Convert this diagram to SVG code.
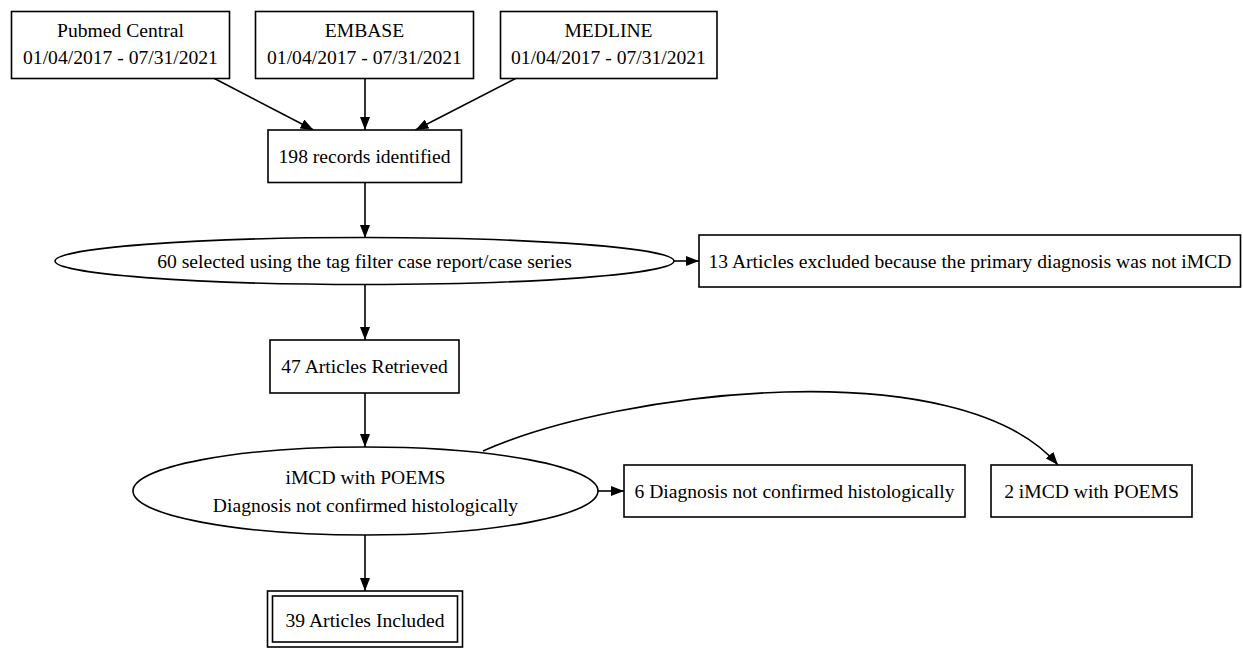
<svg xmlns="http://www.w3.org/2000/svg" width="1243" height="650" viewBox="0 0 1243 650">
<style>
.n{fill:#fff;stroke:#000;stroke-width:1.6}
.t{font-family:"Liberation Serif","Times New Roman",serif;font-size:19.6px;fill:#000;text-anchor:middle;dominant-baseline:central}
.e{fill:none;stroke:#000;stroke-width:1.6}
</style>
<defs>
<marker id="ah" viewBox="0 0 10 10" refX="10" refY="5" markerWidth="13" markerHeight="10" markerUnits="userSpaceOnUse" orient="auto" preserveAspectRatio="none">
<path d="M0,0 L10,5 L0,10 z" fill="#000"/>
</marker>
</defs>
<rect width="1243" height="650" fill="#fff"/>
<g id="connectors">
<path class="e" d="M213.5,78 L313.5,130" marker-end="url(#ah)"/>
<path class="e" d="M365,78 L365,130" marker-end="url(#ah)"/>
<path class="e" d="M516.5,78 L415.5,130" marker-end="url(#ah)"/>
<path class="e" d="M365,182 L365,238" marker-end="url(#ah)"/>
<path class="e" d="M674,261 L699,261" marker-end="url(#ah)"/>
<path class="e" d="M365,284 L365,340" marker-end="url(#ah)"/>
<path class="e" d="M365,393 L365,447" marker-end="url(#ah)"/>
<path class="e" d="M598,491 L624,491" marker-end="url(#ah)"/>
<path class="e" d="M483,451 C620,390 960,350 1058,465" marker-end="url(#ah)"/>
<path class="e" d="M365,535 L365,591" marker-end="url(#ah)"/>
</g>
<g id="pubmed"><rect class="n" x="11.5" y="11.5" width="218" height="67"/><text class="t" x="120.5" y="30">Pubmed Central</text><text class="t" x="120.5" y="57">01/04/2017 - 07/31/2021</text></g>
<g id="embase"><rect class="n" x="255.5" y="11.5" width="218" height="67"/><text class="t" x="364.5" y="30">EMBASE</text><text class="t" x="364.5" y="57">01/04/2017 - 07/31/2021</text></g>
<g id="medline"><rect class="n" x="500.5" y="11.5" width="216.5" height="67"/><text class="t" x="608.5" y="30">MEDLINE</text><text class="t" x="608.5" y="57">01/04/2017 - 07/31/2021</text></g>
<g id="records"><rect class="n" x="268" y="130" width="193.5" height="52.5"/><text class="t" x="364.5" y="156">198 records identified</text></g>
<g id="selected"><ellipse class="n" cx="364.5" cy="261" rx="309.5" ry="23.5"/><text class="t" x="364.5" y="261">60 selected using the tag filter case report/case series</text></g>
<g id="excluded"><rect class="n" x="699" y="235" width="541.5" height="52"/><text class="t" x="970" y="261">13 Articles excluded because the primary diagnosis was not iMCD</text></g>
<g id="retrieved"><rect class="n" x="270" y="340" width="189" height="53"/><text class="t" x="364.5" y="366">47 Articles Retrieved</text></g>
<g id="poems"><ellipse class="n" cx="365.5" cy="491" rx="232.5" ry="44"/><text class="t" x="365.5" y="477">iMCD with POEMS</text><text class="t" x="365.5" y="505">Diagnosis not confirmed histologically</text></g>
<g id="notconfirmed"><rect class="n" x="624" y="465" width="341" height="52"/><text class="t" x="794.5" y="491">6 Diagnosis not confirmed histologically</text></g>
<g id="imcdpoems"><rect class="n" x="991" y="465" width="201" height="52"/><text class="t" x="1091.5" y="491">2 iMCD with POEMS</text></g>
<g id="included"><rect class="n" x="267.5" y="591" width="195" height="56"/><rect class="n" x="272.5" y="596" width="185" height="46"/><text class="t" x="365" y="620">39 Articles Included</text></g>
</svg>
